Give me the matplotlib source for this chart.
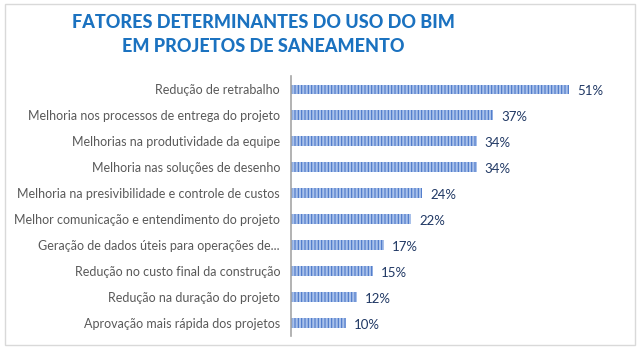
import matplotlib
matplotlib.use("Agg")
import matplotlib.pyplot as plt
from matplotlib.patches import Rectangle

categories = [
    "Redução de retrabalho",
    "Melhoria nos processos de entrega do projeto",
    "Melhorias na produtividade da equipe",
    "Melhoria nas soluções de desenho",
    "Melhoria na presivibilidade e controle de custos",
    "Melhor comunicação e entendimento do projeto",
    "Geração de dados úteis para operações de...",
    "Redução no custo final da construção",
    "Redução na duração do projeto",
    "Aprovação mais rápida dos projetos",
]
values = [51, 37, 34, 34, 24, 22, 17, 15, 12, 10]
title = "FATORES DETERMINANTES DO USO DO BIM\nEM PROJETOS DE SANEAMENTO"

font = ["Lato", "DejaVu Sans"]
plt.rcParams["hatch.linewidth"] = 0.8

fig = plt.figure(figsize=(6.4, 3.56), dpi=100)
fig.patches.append(Rectangle((0.008, 0.03), 0.984, 0.96, transform=fig.transFigure,
                             fill=False, edgecolor="#d9d9d9", linewidth=1))

ax = fig.add_axes([0.455, 0.056, 0.511, 0.73])
y = list(range(len(categories)))
ax.barh(y, values, height=0.36, color="#a9c1ea", edgecolor="#4a76c8",
        hatch="|||||", linewidth=0)
ax.set_xlim(0, 60)
ax.set_ylim(len(categories) - 0.5, -0.5)
ax.set_yticks(y)
ax.set_yticklabels(categories, fontsize=9, color="#595959", family=font)
ax.tick_params(axis="y", length=0, pad=8)
ax.set_xticks([])
for s in ["top", "right", "bottom"]:
    ax.spines[s].set_visible(False)
ax.spines["left"].set_color("#a6a6a6")
ax.spines["left"].set_linewidth(1.2)

for yi, v in zip(y, values):
    ax.text(v + 1.5, yi + 0.08, f"{v}%", va="center", ha="left",
            fontsize=9.5, color="#203864", family=font)

fig.text(0.411, 0.903, title, ha="center", va="center", fontsize=13,
         fontweight="black", color="#1b72c0", family=font, linespacing=1.45)

fig.savefig("out.png", dpi=100)
